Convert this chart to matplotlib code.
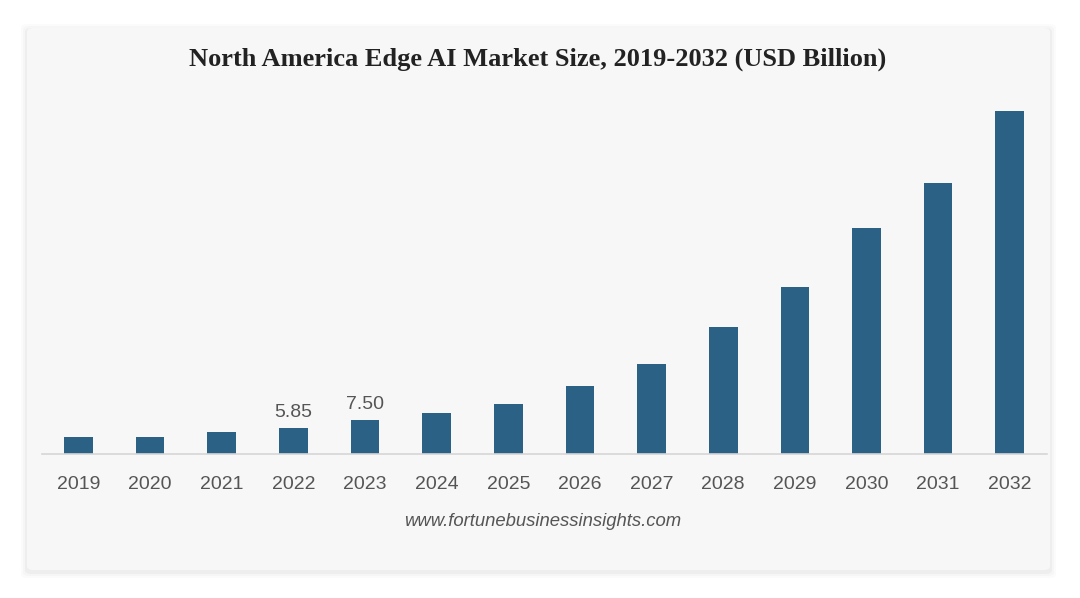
import matplotlib
matplotlib.use("Agg")
import matplotlib.pyplot as plt
from matplotlib.patches import FancyBboxPatch

years = ["2019", "2020", "2021", "2022", "2023", "2024", "2025",
         "2026", "2027", "2028", "2029", "2030", "2031", "2032"]
values = [3.72, 3.79, 4.9, 5.85, 7.50, 9.06, 11.06,
          15.1, 20.1, 28.2, 37.3, 50.4, 60.4, 76.5]
labelled = {"2022": "5.85", "2023": "7.50"}

title = "North America Edge AI Market Size, 2019-2032 (USD Billion)"
source = "www.fortunebusinessinsights.com"

bar_color = "#2b6185"
text_gray = "#555555"

fig = plt.figure(figsize=(10.8, 5.98), dpi=100)
fig.patch.set_facecolor("white")

# card with a soft shadow
W, H = 1080, 598
def card(x0, y0, x1, y1, **kw):
    return FancyBboxPatch((x0 / W, 1 - y1 / H), (x1 - x0) / W, (y1 - y0) / H,
                          boxstyle="round,pad=0,rounding_size=0.006",
                          transform=fig.transFigure, zorder=-5, **kw)
for i, a in enumerate([0.015, 0.02, 0.03]):
    d = 6 - 2 * i
    fig.patches.append(card(27 - d, 28 - d + 2, 1050 + d, 570 + d + 2,
                            facecolor="black", edgecolor="none", alpha=a))
fig.patches.append(card(27, 28, 1050, 570, facecolor="#f7f7f7", edgecolor="none"))

ax = fig.add_axes([42 / W, 1 - 454 / H, 1005 / W, 359.2 / H])
ax.set_zorder(5)
ax.set_facecolor("none")
x = range(len(years))
ax.bar(x, values, width=0.4, color=bar_color, zorder=2)
ax.set_xlim(-0.51, 13.52)
ax.set_ylim(0, 80)

for i, (y, v) in enumerate(zip(years, values)):
    if y in labelled:
        ax.annotate(labelled[y], (i, v), xytext=(0, 5), textcoords="offset points",
                    ha="center", va="bottom", fontsize=14, color=text_gray,
                    family="Liberation Sans")

ax.set_xticks(list(x))
ax.set_xticklabels(years, fontsize=14, color=text_gray, family="Liberation Sans")
ax.tick_params(axis="x", length=0, pad=15.5)
ax.set_yticks([])
for s in ["top", "right", "left"]:
    ax.spines[s].set_visible(False)
ax.spines["bottom"].set_color("#d6d6d6")
ax.spines["bottom"].set_linewidth(1.2)

fig.text(538 / W, 1 - 59 / H, title, ha="center", va="center", fontsize=19,
         fontweight="bold", family="Liberation Serif", color="#222222")
fig.text(543 / W, 1 - 521 / H, source, ha="center", va="center", fontsize=13.3,
         style="italic", family="Liberation Sans", color=text_gray)

fig.savefig("out.png", dpi=100)
